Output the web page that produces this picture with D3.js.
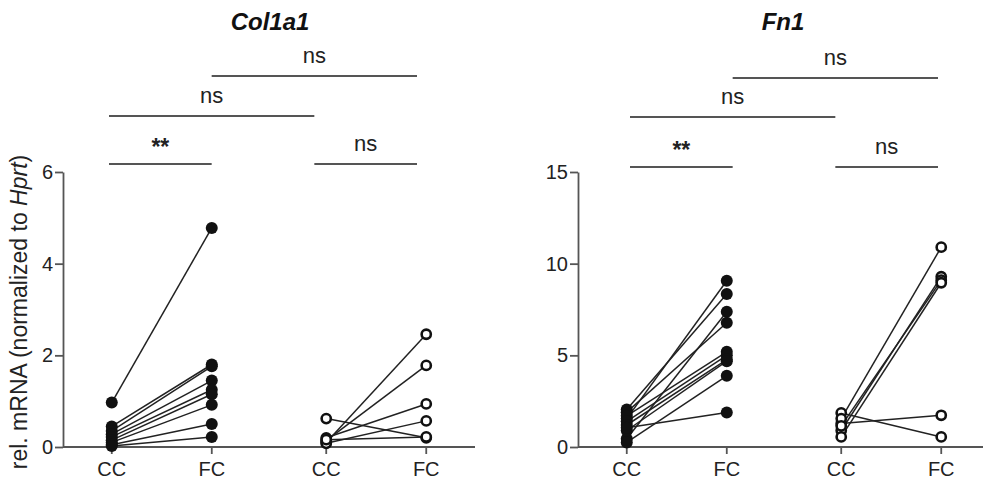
<!DOCTYPE html>
<html><head><meta charset="utf-8">
<script src="https://cdn.jsdelivr.net/npm/d3@7"></script>
<style>body{margin:0;background:#fff}svg{display:block}text{font-family:"Liberation Sans",Arial,Helvetica,sans-serif}</style>
</head><body><svg id="c" width="983" height="482"></svg>
<script>
// ---- data ----
const groups = ["G1", "G2"];
const conditions = ["CC", "FC"];
const col1a1Filled_CC = [0.97, 0.45, 0.35, 0.28, 0.22, 0.15, 0.10, 0.05, 0.02];
const col1a1Filled_FC = [4.78, 1.80, 1.76, 1.45, 1.25, 1.15, 0.92, 0.50, 0.22];
const col1a1Open_CC = [0.62, 0.10, 0.14, 0.20, 0.08, 0.16];
const col1a1Open_FC = [0.20, 2.46, 1.78, 0.94, 0.57, 0.22];
const fn1Filled_CC = [1.55, 2.05, 0.45, 1.90, 1.70, 1.40, 1.20, 0.90, 0.25, 1.05];
const fn1Filled_FC = [9.07, 8.34, 7.38, 6.78, 5.19, 5.00, 4.77, 4.68, 3.88, 1.88];
const fn1Open_CC = [1.86, 1.28, 1.55, 0.90, 1.15, 0.55];
const fn1Open_FC = [0.55, 1.73, 10.90, 9.29, 9.10, 8.96];
const col1a1Ticks = [0, 2, 4, 6];
const fn1Ticks = [0, 5, 10, 15];
const barKeys = ["G1-CC", "G1-FC", "G2-CC", "G2-FC"];
// significance annotations
const sigs = [
  {a:"G1-CC", b:"G1-FC", label:"**", level:0},
  {a:"G2-CC", b:"G2-FC", label:"ns", level:0},
  {a:"G1-CC", b:"G2-CC", label:"ns", level:1},
  {a:"G1-FC", b:"G2-FC", label:"ns", level:2}
];

const panels = [
  {title:"Col1a1", left:63, max:6, ticks:col1a1Ticks, filled:[col1a1Filled_CC,col1a1Filled_FC], open:[col1a1Open_CC,col1a1Open_FC], barY:[164,116,76], barRange:[46,354], titleX:270},
  {title:"Fn1", left:578, max:15, ticks:fn1Ticks, filled:[fn1Filled_CC,fn1Filled_FC], open:[fn1Open_CC,fn1Open_FC], barY:[167,117,78], barRange:[52,360], titleX:783}
];

const svg = d3.select("#c");
const W = 412, yTop = 172, yBot = 447;
const axisCol = "#555", ink = "#111";

panels.forEach(p => {
  const g = svg.append("g").attr("transform", `translate(${p.left},0)`);
  const x0 = d3.scaleBand().domain(groups).range([0, W]).paddingInner(0.1).paddingOuter(0.0105);
  const x1 = d3.scalePoint().domain(conditions).range([0, x0.bandwidth()]).padding(0.465);
  const xp = (gr, c) => x0(gr) + x1(c);
  const y = d3.scaleLinear().domain([0, p.max]).range([yBot, yTop]);
  const xb = d3.scalePoint().domain(barKeys).range(p.barRange);

  // y axis
  const ya = g.append("g").call(d3.axisLeft(y).tickValues(p.ticks).tickFormat(d3.format("d")).tickSize(8).tickPadding(2).tickSizeOuter(0));
  ya.select(".domain").attr("stroke", axisCol).attr("stroke-width", 1.8);
  ya.selectAll(".tick line").attr("stroke", axisCol).attr("stroke-width", 1.8);
  ya.selectAll(".tick text").attr("font-size", 20).attr("fill", "#222").attr("font-family", '"Liberation Sans",Arial,sans-serif');

  // x axis
  g.append("line").attr("x1", 0).attr("x2", W).attr("y1", yBot).attr("y2", yBot).attr("stroke", axisCol).attr("stroke-width", 1.8);
  groups.forEach(gr => conditions.forEach(c => {
    const xx = xp(gr, c);
    g.append("line").attr("x1", xx).attr("x2", xx).attr("y1", yBot).attr("y2", yBot + 7).attr("stroke", axisCol).attr("stroke-width", 1.8);
    g.append("text").attr("x", xx).attr("y", yBot + 29).attr("text-anchor", "middle").attr("font-size", 20).attr("fill", "#222").text(c);
  }));

  // paired lines and points
  const drawSet = (vals, gr, filled) => {
    const [cc, fc] = vals;
    cc.forEach((v, i) => {
      g.append("line").attr("x1", xp(gr, "CC")).attr("y1", y(v)).attr("x2", xp(gr, "FC")).attr("y2", y(fc[i]))
        .attr("stroke", "#222").attr("stroke-width", 1.5);
    });
    [[cc, "CC"], [fc, "FC"]].forEach(([arr, c]) => {
      arr.forEach(v => {
        const ci = g.append("circle").attr("cx", xp(gr, c)).attr("cy", y(v));
        if (filled) ci.attr("r", 6).attr("fill", ink);
        else ci.attr("r", 4.6).attr("fill", "#fff").attr("stroke", ink).attr("stroke-width", 2.6);
      });
    });
  };
  drawSet(p.filled, "G1", true);
  drawSet(p.open, "G2", false);

  // significance bars
  sigs.forEach(s => {
    const xa = xb(s.a), xe = xb(s.b);
    const yy = p.barY[s.level];
    g.append("line").attr("x1", xa).attr("x2", xe).attr("y1", yy).attr("y2", yy).attr("stroke", axisCol).attr("stroke-width", 2);
    g.append("text").attr("x", (xa + xe) / 2).attr("y", yy - (s.label === "**" ? 9 : 13))
      .attr("text-anchor", "middle").attr("font-size", s.label === "**" ? 23 : 22)
      .attr("font-weight", s.label === "**" ? "bold" : "normal").attr("fill", "#222").text(s.label);
  });

  // title
  svg.append("text").attr("x", p.titleX).attr("y", 30).attr("text-anchor", "middle")
    .attr("font-size", 24).attr("font-weight", "bold").attr("font-style", "italic").attr("fill", "#111").text(p.title);
});

// y label
const yl = svg.append("text").attr("transform", "translate(27,312) rotate(-90)").attr("text-anchor", "middle")
  .attr("font-size", 23).attr("fill", "#222");
yl.append("tspan").text("rel. mRNA (normalized to ");
yl.append("tspan").attr("font-style", "italic").text("Hprt");
yl.append("tspan").text(")");
</script></body></html>
